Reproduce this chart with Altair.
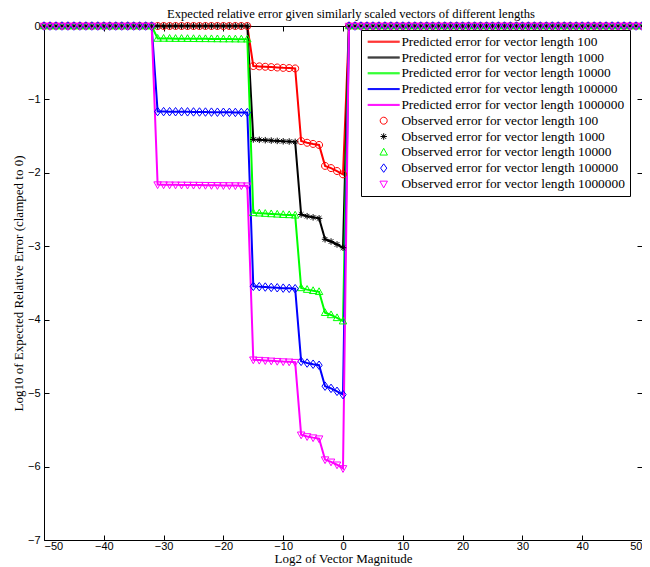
import altair as alt
import pandas as pd

# ---------------- data ----------------
x_vals = list(range(-50, 51))
lengths = ["100", "1000", "10000", "100000", "1000000"]

err_100 = ([0.0] * 35
           + [-0.545, -0.55, -0.555, -0.56, -0.565, -0.57, -0.573, -0.578]
           + [-1.567, -1.59, -1.606, -1.62]
           + [-1.905, -1.935, -1.975, -2.02]
           + [0.0] * 50)
err_1000 = ([0.0] * 35
            + [-1.545, -1.55, -1.555, -1.56, -1.565, -1.57, -1.573, -1.578]
            + [-2.567, -2.59, -2.606, -2.62]
            + [-2.905, -2.935, -2.975, -3.02]
            + [0.0] * 50)
err_10000 = ([0.0] * 19
             + [-0.17, -0.17, -0.171, -0.172, -0.172, -0.173, -0.174, -0.175,
                -0.175, -0.176, -0.177, -0.178, -0.178, -0.179, -0.18, -0.18]
             + [-2.545, -2.55, -2.555, -2.56, -2.565, -2.57, -2.573, -2.578]
             + [-3.567, -3.59, -3.606, -3.62]
             + [-3.905, -3.935, -3.975, -4.02]
             + [0.0] * 50)
err_100000 = ([0.0] * 19
              + [-1.165, -1.166, -1.167, -1.168, -1.168, -1.169, -1.17, -1.171,
                 -1.172, -1.173, -1.174, -1.175, -1.176, -1.177, -1.178, -1.179]
              + [-3.545, -3.55, -3.555, -3.56, -3.565, -3.57, -3.573, -3.578]
              + [-4.567, -4.59, -4.606, -4.62]
              + [-4.905, -4.935, -4.975, -5.02]
              + [0.0] * 50)
err_1000000 = ([0.0] * 19
               + [-2.16, -2.161, -2.162, -2.163, -2.164, -2.165, -2.166, -2.167,
                  -2.168, -2.169, -2.17, -2.171, -2.172, -2.173, -2.174, -2.175]
               + [-4.545, -4.55, -4.555, -4.56, -4.565, -4.57, -4.573, -4.578]
               + [-5.567, -5.59, -5.606, -5.62]
               + [-5.905, -5.935, -5.975, -6.025]
               + [0.0] * 50)
series = [err_100, err_1000, err_10000, err_100000, err_1000000]

series_colors = ["#ff0000", "#000000", "#00ff00", "#0000ff", "#ff00ff"]
x_ticks = list(range(-50, 51, 10))
y_ticks = list(range(-7, 1))

pred_labels = [f"Predicted error for vector length {n}" for n in lengths]
obs_labels = [f"Observed error for vector length {n}" for n in lengths]

# marker shapes (custom symbol paths, unit scale)
line_sym = "M-3.2,-0.1H3.2M3.2,0.1H-3.2"
circle_sym = "M0.7,0A0.7,0.7 0 1,1 -0.7,0A0.7,0.7 0 1,1 0.7,0Z"
star_sym = "M-0.65,0H0.65M0,-0.65V0.65M-0.46,-0.46L0.46,0.46M-0.46,0.46L0.46,-0.46"
tri_up_sym = "M0,-0.8L0.75,0.55L-0.75,0.55Z"
diamond_sym = "M0,-0.85L0.62,0L0,0.85L-0.62,0Z"
tri_down_sym = "M0,0.8L0.75,-0.55L-0.75,-0.55Z"

domain_all = pred_labels + obs_labels
color_range = series_colors + series_colors
shape_range = [line_sym] * 5 + [circle_sym, star_sym, tri_up_sym, diamond_sym, tri_down_sym]

rows_line = []
rows_pt = []
for i, vals in enumerate(series):
    for xv, yv in zip(x_vals, vals):
        rows_line.append({"x": xv, "y": yv, "label": pred_labels[i]})
        rows_pt.append({"x": xv, "y": yv, "label": obs_labels[i]})
df_line = pd.DataFrame(rows_line)
df_pt = pd.DataFrame(rows_pt)

SERIF = "Liberation Serif"
SANS = "Liberation Sans"

x_scale = alt.Scale(domain=[-50, 50], nice=False, zero=False)
y_scale = alt.Scale(domain=[-7, 0], nice=False, zero=False)

legend_props = dict(
    orient="none", legendX=317, legendY=4,
    strokeColor="black", fillColor="white", padding=5,
    labelFont=SERIF, labelFontSize=13.4, labelColor="black",
    symbolSize=100, symbolStrokeWidth=1, symbolOffset=11, labelOffset=11,
    rowPadding=0.8, labelLimit=400,
)
legend = alt.Legend(**legend_props)
color_enc = alt.Color("label:N", scale=alt.Scale(domain=domain_all, range=color_range),
                      legend=legend, title=None)
shape_enc = alt.Shape("label:N", scale=alt.Scale(domain=domain_all, range=shape_range),
                      legend=legend, title=None)

lines = alt.Chart(df_line).mark_line(strokeWidth=2).encode(
    x=alt.X("x:Q", scale=x_scale, axis=alt.Axis(
        values=x_ticks, orient="bottom", offset=-5, tickSize=5, domain=False, grid=False,
        labelFont=SANS, labelFontSize=11, labelColor="black", tickColor="black",
        labelPadding=0, title="Log2 of Vector Magnitude", titleFont=SERIF,
        titleFontSize=13, titleFontWeight="normal", titleColor="black", titlePadding=1)),
    y=alt.Y("y:Q", scale=y_scale, axis=alt.Axis(
        values=y_ticks, orient="left", offset=-5, tickSize=5, domain=False, grid=False,
        labelFont=SANS, labelFontSize=11, labelColor="black", tickColor="black",
        labelPadding=4, title="Log10 of Expected Relative Error (clamped to 0)",
        titleFont=SERIF, titleFontSize=13, titleFontWeight="normal", titleColor="black",
        titlePadding=2)),
    color=color_enc,
)

points = alt.Chart(df_pt).mark_point(filled=False, size=100, strokeWidth=1, opacity=1).encode(
    x=alt.X("x:Q", scale=x_scale, axis=alt.Axis(
        values=x_ticks, orient="top", offset=-5, tickSize=5, domain=False, grid=False,
        labels=False, tickColor="black", title="")),
    y=alt.Y("y:Q", scale=y_scale, axis=alt.Axis(
        values=y_ticks, orient="right", offset=-5, tickSize=5, domain=False, grid=False,
        labels=False, tickColor="black", title="")),
    color=color_enc,
    shape=shape_enc,
)

chart = alt.layer(lines, points).resolve_axis(x="independent", y="independent").properties(
    width=598, height=514,
    padding={"left": 36, "top": 18, "right": 0, "bottom": 30},
    autosize=alt.AutoSizeParams(type="none"),
    title=alt.Title("Expected relative error given similarly scaled vectors of different lengths",
                    font=SERIF, fontSize=12.6, fontWeight="normal", color="black",
                    anchor="middle", offset=-1, dx=8),
).configure_view(stroke="black", strokeWidth=1).configure_legend(**legend_props)

chart.save("out.html", embed_options={"renderer": "svg", "actions": False})
